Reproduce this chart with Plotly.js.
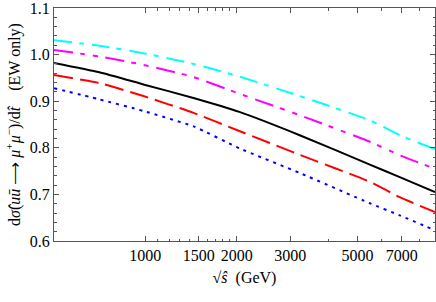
<!DOCTYPE html>
<html>
<head>
<meta charset="utf-8">
<script src="https://cdn.plot.ly/plotly-3.0.1.min.js"></script>
<style>html,body{margin:0;padding:0;background:#fff;}#chart{width:436px;height:302px;}</style>
</head>
<body>
<div id="chart"></div>
<script>
// sqrt(s-hat) in GeV
const sqrtS = [500, 705, 985, 1440, 2040, 3225, 5490, 6890, 9000];
const cyanVals    = [1.031, 1.019, 1.003, 0.980, 0.953, 0.911, 0.859, 0.827, 0.797];
const magentaVals = [1.010, 0.996, 0.978, 0.952, 0.916, 0.870, 0.813, 0.784, 0.755];
const blackVals   = [0.982, 0.962, 0.936, 0.907, 0.877, 0.827, 0.764, 0.737, 0.705];
const redVals     = [0.956, 0.939, 0.911, 0.875, 0.836, 0.785, 0.727, 0.694, 0.662];
const blueVals    = [0.928, 0.904, 0.879, 0.846, 0.799, 0.746, 0.681, 0.655, 0.623];

const xTickVals = [1000, 1500, 2000, 3000, 5000, 7000];
const xTickText = ['1000', '1500', '2000', '3000', '5000', '7000'];
const xMinorVals = [1100, 1200, 1300, 1400, 1600, 1700, 1800, 1900, 4000, 6000, 8000];
const yTickVals = [0.6, 0.7, 0.8, 0.9, 1.0, 1.1];
const yTickText = ['0.6', '0.7', '0.8', '0.9', '1.0', '1.1'];

function tr(y, color, dash) {
  return {x: sqrtS, y: y, type: 'scatter', mode: 'lines',
    line: {color: color, width: 2, dash: dash, shape: 'spline', smoothing: 0.5},
    showlegend: false, hoverinfo: 'skip'};
}
const data = [
  tr(cyanVals, '#00FFFF', '18px,7px,5px,8px'),
  tr(magentaVals, '#FF00FF', '19px,7px,5px,8px,5px,8px'),
  tr(blackVals, '#000000', 'solid'),
  tr(redVals, '#FF0000', '19px,7px'),
  tr(blueVals, '#0000FF', '3px,5px')
];
const frame = '#555555';
const serif = 'Liberation Serif, Times New Roman, serif';
const layout = {
  width: 436, height: 302,
  margin: {l: 54, r: 1, t: 8, b: 61},
  paper_bgcolor: '#fff', plot_bgcolor: '#fff',
  font: {family: serif, size: 16, color: '#000'},
  xaxis: {
    type: 'log', range: [Math.log10(500), Math.log10(9000)],
    tickmode: 'array', tickvals: xTickVals, ticktext: xTickText,
    tickfont: {family: serif, size: 16},
    ticks: 'inside', ticklen: 5, tickcolor: frame, tickwidth: 1,
    showline: true, linecolor: frame, linewidth: 1, mirror: 'ticks',
    showgrid: false, zeroline: false,
    minor: {tickmode: 'array', tickvals: xMinorVals, ticks: 'inside', ticklen: 2.5, tickcolor: frame, showgrid: false},
    title: {text: '√<i>ŝ</i>\u00A0\u00A0(GeV)', font: {family: serif, size: 16}, standoff: 8},
    automargin: false
  },
  yaxis: {
    range: [0.6, 1.1], tickmode: 'array', tickvals: yTickVals, ticktext: yTickText,
    tickfont: {family: serif, size: 16}, ticklabeloverflow: 'allow',
    ticks: 'inside', ticklen: 5, tickcolor: frame, tickwidth: 1,
    showline: true, linecolor: frame, linewidth: 1, mirror: 'ticks',
    showgrid: false, zeroline: false,
    minor: {tickmode: 'linear', tick0: 0.6, dtick: 0.02, ticks: 'inside', ticklen: 2.5, tickcolor: frame, showgrid: false},
    title: {text: 'd<i>σ̂</i>(<i>u</i><i>ū</i>\u00A0⟶\u00A0<i>μ</i><sup>+</sup><i>μ</i><sup>−</sup>)/d<i>t̂</i>\u00A0\u00A0\u00A0\u00A0(EW only)', font: {family: serif, size: 16}, standoff: 5},
    automargin: false
  }
};
Plotly.newPlot('chart', data, layout, {displayModeBar: false, staticPlot: true});
</script>
</body>
</html>
